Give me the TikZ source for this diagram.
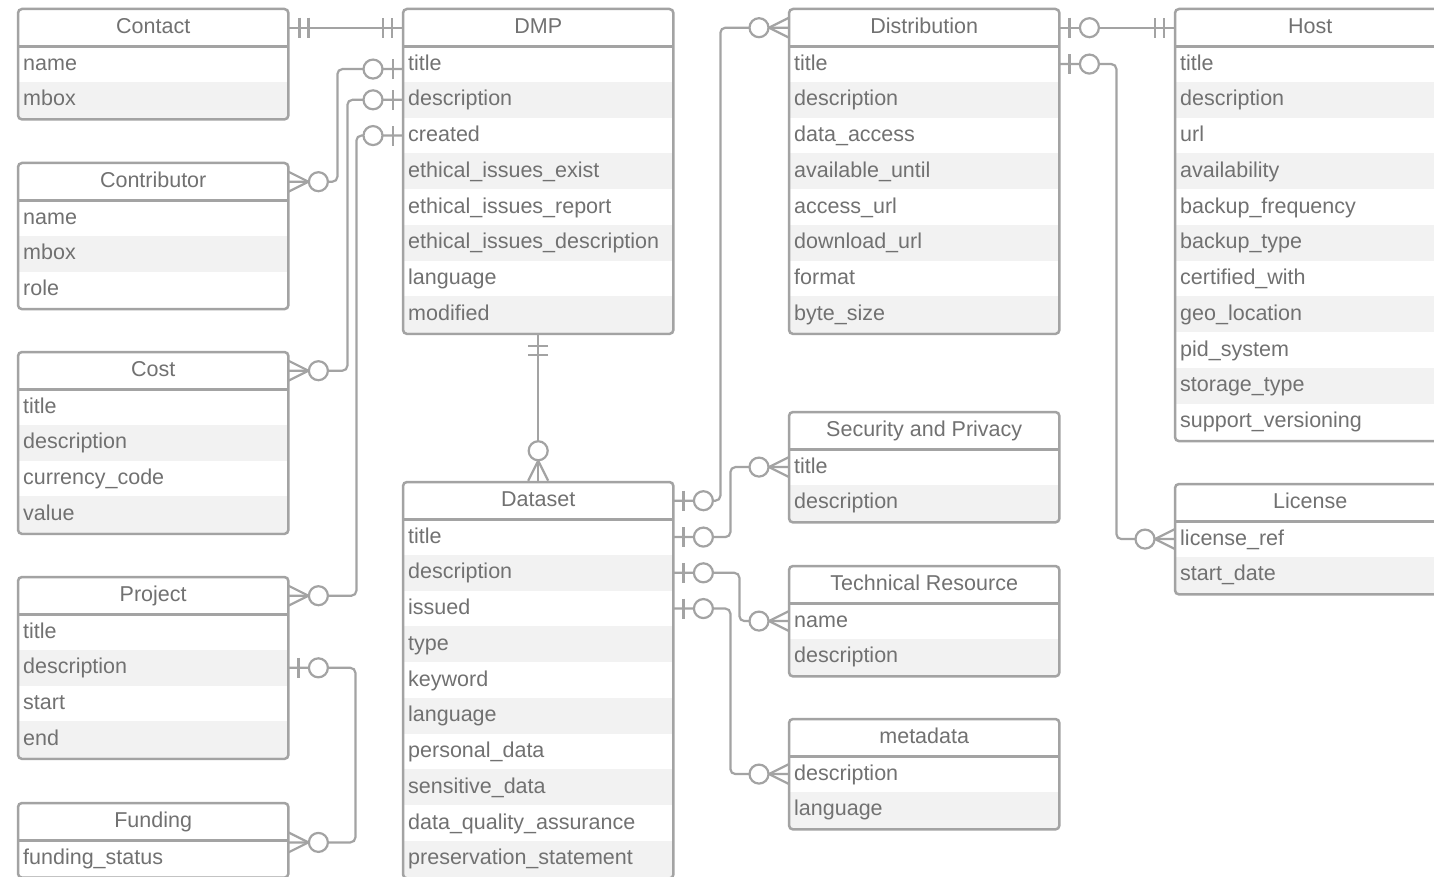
\documentclass[tikz,border=0pt]{standalone}
\usepackage{fontspec}
\setmainfont{Liberation Sans}
\usetikzlibrary{calc,fit}
\definecolor{bordergray}{HTML}{A3A3A3}
\definecolor{txtgray}{HTML}{717171}
\definecolor{rowgray}{HTML}{F2F2F2}
\tikzset{
  ent/.style={font=\fontsize{21.5}{25}\selectfont, text=txtgray, text height=16.5pt, text depth=4.5pt},
  hdr/.style={ent, minimum width=270pt, minimum height=37pt, inner sep=0pt, anchor=north west},
  rowbox/.style={ent, text width=260pt, inner xsep=5pt, inner ysep=0pt, minimum height=35.75pt, anchor=north west, align=left},
  border/.style={draw=bordergray, line width=2.5pt, rounded corners=4pt, inner sep=0pt},
  conn/.style={draw=bordergray, line width=2.2pt, rounded corners=5pt},
  mk/.style={draw=bordergray, line width=2.2pt},
  pics/erOne/.style={code={\draw[mk] (11,-10)--(11,10) (20,-10)--(20,10);}},
  pics/erZeroOne/.style={code={\draw[mk] (10,-10)--(10,10); \draw[mk,fill=white] (30,0) circle[radius=9.5pt];}},
  pics/erZeroMany/.style={code={\draw[mk] (0,-10)--(20,0)--(0,10); \draw[mk,fill=white] (30,0) circle[radius=9.5pt];}},
}
\newcommand\erent[6]{%
  \node[hdr] (#1) at (#2,#3) {#4};
  \foreach \r [count=\i] in {#6} {
    \ifodd\i\relax \def\rf{white}\else\def\rf{rowgray}\fi
    \node[rowbox, fill=\rf] (#1-\i) at (#2,{#3+37+(\i-1)*35.75}) {\r};
  }
  \draw[draw=bordergray, line width=2.5pt] (#1.south west) -- (#1.south east);
  \coordinate (#1-end) at ($(#1-#5.south east)+(0,-1.5pt)$);
  \node[border, fit=(#1)(#1-#5)(#1-end)] (#1-box) {};
}
\begin{document}
\begin{tikzpicture}[x=1pt,y=-1pt]
\useasboundingbox (0,0) rectangle (1434,877);
\fill[white] (0,0) rectangle (1434,877);
\clip (0,0) rectangle (1434,877);

\erent{Contact}{18}{9}{Contact}{2}{name,mbox}
\erent{Contributor}{18}{163}{Contributor}{3}{name,mbox,role}
\erent{Cost}{18}{352}{Cost}{4}{title,description,currency\_code,value}
\erent{Project}{18}{577}{Project}{4}{title,description,start,end}
\erent{Funding}{18}{803}{Funding}{1}{funding\_status}
\erent{DMP}{403}{9}{DMP}{8}{title,description,created,ethical\_issues\_exist,ethical\_issues\_report,ethical\_issues\_description,language,modified}
\erent{Dataset}{403}{482}{Dataset}{10}{title,description,issued,type,keyword,language,personal\_data,sensitive\_data,data\_quality\_assurance,preservation\_statement}
\erent{Distribution}{789}{9}{Distribution}{8}{title,description,data\_access,available\_until,access\_url,download\_url,format,byte\_size}
\erent{Security}{789}{412}{Security and Privacy}{2}{title,description}
\erent{Technical}{789}{566}{Technical Resource}{2}{name,description}
\erent{metadata}{789}{719}{metadata}{2}{description,language}
\erent{Host}{1175}{9}{Host}{11}{title,description,url,availability,backup\_frequency,backup\_type,certified\_with,geo\_location,pid\_system,storage\_type,support\_versioning}
\erent{License}{1175}{484}{License}{2}{license\_ref,start\_date}

% connectors
\draw[conn] (Contact.east) -- (DMP.west);
\draw[conn] (Contributor.east) -- ++(49,0) |- ([yshift=-5pt]DMP-1.west);
\draw[conn] (Cost.east) -- ++(59,0) |- (DMP-2.west);
\draw[conn] (Project.east) -- ++(68,0) |- (DMP-3.west);
\draw[conn] (Project-2.east) -- ++(67,0) |- ([yshift=-2pt]Funding.south east);
\draw[conn] (DMP-box.south) -- (Dataset-box.north);
\draw[conn] (Dataset.east) -- ++(47,0) |- (Distribution.west);
\draw[conn] (Dataset-1.east) -- ++(57,0) |- (Security-1.west);
\draw[conn] (Dataset-2.east) -- ++(66,0) |- (Technical-1.west);
\draw[conn] (Dataset-3.east) -- ++(57,0) |- (metadata-1.west);
\draw[conn] (Distribution.east) -- (Host.west);
\draw[conn] (Distribution-1.east) -- ++(57,0) |- (License-1.west);

% end markers
\pic at (Contact.east) {erOne};
\pic[rotate=180] at (DMP.west) {erOne};
\pic at (Contributor.east) {erZeroMany};
\pic[rotate=180] at ([yshift=-5pt]DMP-1.west) {erZeroOne};
\pic at (Cost.east) {erZeroMany};
\pic[rotate=180] at (DMP-2.west) {erZeroOne};
\pic at (Project.east) {erZeroMany};
\pic[rotate=180] at (DMP-3.west) {erZeroOne};
\pic at (Project-2.east) {erZeroOne};
\pic at ([yshift=-2pt]Funding.south east) {erZeroMany};
\pic[rotate=-90] at (DMP-box.south) {erOne};
\pic[rotate=90] at (Dataset-box.north) {erZeroMany};
\pic at (Dataset.east) {erZeroOne};
\pic[rotate=180] at (Distribution.west) {erZeroMany};
\pic at (Dataset-1.east) {erZeroOne};
\pic[rotate=180] at (Security-1.west) {erZeroMany};
\pic at (Dataset-2.east) {erZeroOne};
\pic[rotate=180] at (Technical-1.west) {erZeroMany};
\pic at (Dataset-3.east) {erZeroOne};
\pic[rotate=180] at (metadata-1.west) {erZeroMany};
\pic at (Distribution.east) {erZeroOne};
\pic[rotate=180] at (Host.west) {erOne};
\pic at (Distribution-1.east) {erZeroOne};
\pic[rotate=180] at (License-1.west) {erZeroMany};
\end{tikzpicture}
\end{document}
